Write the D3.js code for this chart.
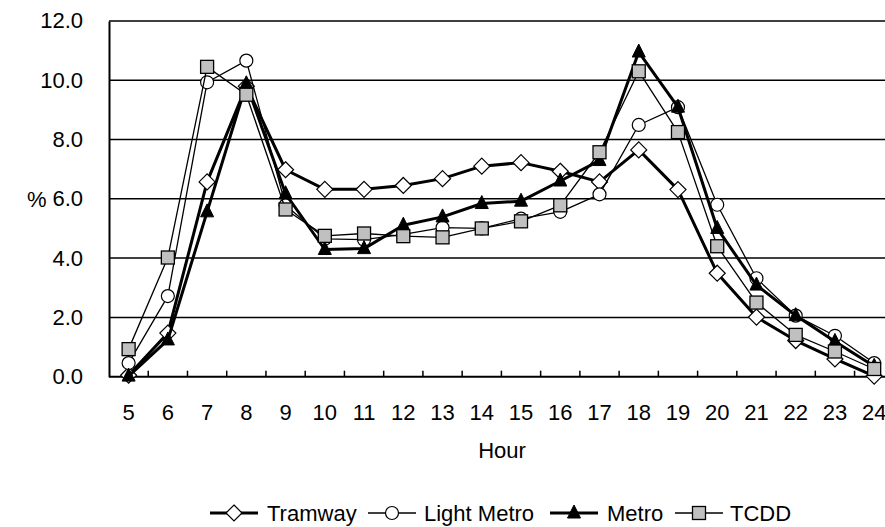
<!DOCTYPE html>
<html><head><meta charset="utf-8">
<script src="https://cdn.jsdelivr.net/npm/d3@7"></script>
<style>
body{margin:0;background:#fff;}
svg{display:block;font-family:"Liberation Sans",Arial,sans-serif;}
</style></head>
<body><svg id="c" width="885" height="527"></svg>
<script>
const hours = [5,6,7,8,9,10,11,12,13,14,15,16,17,18,19,20,21,22,23,24];
const tramway    = [0.05,1.47,6.57,9.80,6.98,6.32,6.32,6.45,6.68,7.10,7.22,6.93,6.57,7.65,6.31,3.49,2.01,1.22,0.60,0.02];
const lightMetro = [0.46,2.72,9.93,10.66,5.78,4.65,4.62,4.80,5.03,5.00,5.33,5.56,6.15,8.49,9.09,5.80,3.32,2.06,1.38,0.46];
const metro      = [0.02,1.24,5.56,9.88,6.17,4.29,4.32,5.11,5.39,5.84,5.92,6.60,7.29,10.95,9.09,5.00,3.09,2.06,1.19,0.35];
const tcdd       = [0.93,4.02,10.45,9.51,5.64,4.75,4.83,4.74,4.70,5.00,5.24,5.78,7.57,10.30,8.25,4.40,2.50,1.41,0.85,0.26];
const yTicks = [0,2,4,6,8,10,12];
const seriesNames = ["Tramway","Light Metro","Metro","TCDD"];

const svg = d3.select("#c");
const plotLeft = 109, bandW = 39.24, plotTop = 20.9, plotBottom = 376.7;
const x = d3.scaleBand().domain(hours).range([plotLeft, plotLeft + bandW*hours.length]).paddingInner(0).paddingOuter(0);
const y = d3.scaleLinear().domain([0,12]).range([plotBottom, plotTop]);
const FS = 22;
const FF = "Liberation Sans, Arial, sans-serif";

// gridlines
svg.append("g").selectAll("line").data(yTicks.filter(d=>d>0)).join("line")
  .attr("x1", plotLeft).attr("x2", x.range()[1])
  .attr("y1", d=>y(d)).attr("y2", d=>y(d))
  .attr("stroke","#000").attr("stroke-width",1.5);

// y axis
const yAxis = d3.axisLeft(y).tickValues(yTicks).tickFormat(d3.format(".1f")).tickSize(0).tickPadding(26);
const gy = svg.append("g").attr("transform",`translate(${plotLeft},0)`).call(yAxis);
gy.select(".domain").attr("stroke","#000").attr("stroke-width",2);
gy.selectAll("text").attr("font-size",FS).attr("font-family",FF).attr("fill","#000");

// x axis
const xAxis = d3.axisBottom(x).tickSize(0).tickPadding(0);
const gx = svg.append("g").attr("transform",`translate(0,${plotBottom})`).call(xAxis);
gx.select(".domain").remove();
gx.selectAll("text").attr("font-size",FS).attr("font-family",FF).attr("fill","#000").attr("y",43).attr("dy","0");
svg.append("line").attr("x1",plotLeft).attr("x2",x.range()[1]).attr("y1",plotBottom).attr("y2",plotBottom).attr("stroke","#000").attr("stroke-width",2);
svg.append("g").selectAll("line").data(hours.slice(1)).join("line")
  .attr("x1",d=>x(d)).attr("x2",d=>x(d)).attr("y1",plotBottom).attr("y2",plotBottom-6)
  .attr("stroke","#000").attr("stroke-width",1.5);

// labels
svg.append("text").attr("x",27).attr("y",y(6)).attr("dy","0.35em").attr("font-size",FS).attr("font-family",FF).text("%");
svg.append("text").attr("x",502).attr("y",458).attr("text-anchor","middle").attr("font-size",FS).attr("font-family",FF).text("Hour");

const cx = d => x(d) + x.bandwidth()/2;
const line = d3.line().x((d,i)=>cx(hours[i])).y(d=>y(d));

const styles = [
  {name:"Tramway", data:tramway, w:3, shape:"diamond", fill:"#fff"},
  {name:"Light Metro", data:lightMetro, w:1.3, shape:"circle", fill:"#fff"},
  {name:"Metro", data:metro, w:3, shape:"triangle", fill:"#000"},
  {name:"TCDD", data:tcdd, w:1.3, shape:"square", fill:"#c0c0c0"}
];

function marker(g, shape, fill, px, py){
  if(shape==="diamond"){
    g.append("path").attr("d",`M${px},${py-8}L${px+8},${py}L${px},${py+8}L${px-8},${py}Z`)
      .attr("fill",fill).attr("stroke","#000").attr("stroke-width",1.2);
  } else if(shape==="circle"){
    g.append("circle").attr("cx",px).attr("cy",py).attr("r",6.5)
      .attr("fill",fill).attr("stroke","#000").attr("stroke-width",1.2);
  } else if(shape==="triangle"){
    g.append("path").attr("d",`M${px},${py-8}L${px+6.5},${py+5}L${px-6.5},${py+5}Z`)
      .attr("fill",fill).attr("stroke","#000").attr("stroke-width",1);
  } else {
    g.append("rect").attr("x",px-6.5).attr("y",py-6.5).attr("width",13).attr("height",13)
      .attr("fill",fill).attr("stroke","#000").attr("stroke-width",1.3);
  }
}

styles.forEach(s=>{
  const g = svg.append("g");
  g.append("path").datum(s.data).attr("d",line).attr("fill","none").attr("stroke","#000").attr("stroke-width",s.w).attr("stroke-linejoin","round");
  s.data.forEach((v,i)=>marker(g, s.shape, s.fill, cx(hours[i]), y(v)));
});

// legend
const legendPos = [{lx:210,tx:267},{lx:368,tx:424},{lx:550,tx:607},{lx:675,tx:730}];
const ly = 513;
styles.forEach((s,i)=>{
  const g = svg.append("g");
  const p = legendPos[i];
  g.append("line").attr("x1",p.lx).attr("x2",p.lx+48).attr("y1",ly).attr("y2",ly).attr("stroke","#000").attr("stroke-width",s.w);
  marker(g, s.shape, s.fill, p.lx+24, ly);
  g.append("text").attr("x",p.tx).attr("y",ly).attr("dy","0.36em").attr("font-size",FS).attr("font-family",FF).text(seriesNames[i]);
});
</script></body></html>
